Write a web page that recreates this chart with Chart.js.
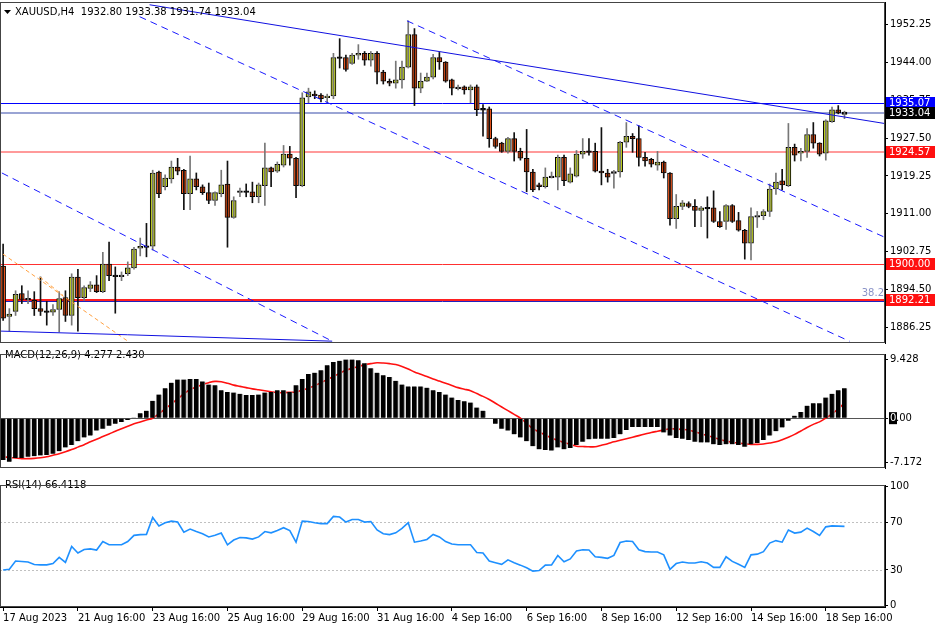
<!DOCTYPE html>
<html><head><meta charset="utf-8">
<script src="https://cdn.jsdelivr.net/npm/chart.js@4.4.0/dist/chart.umd.min.js"></script>
<style>
html,body{margin:0;padding:0;background:#fff;width:936px;height:624px;overflow:hidden;font-family:"DejaVu Sans",sans-serif}
.box{position:absolute;left:0;width:936px}
canvas{display:block}
</style></head><body>
<div class="box" style="top:0;height:345px;overflow:hidden"><div class="box" style="top:-6px;height:357px"><canvas id="c1"></canvas></div></div>
<div class="box" style="top:346px;height:130px"><canvas id="c2"></canvas></div>
<div class="box" style="top:477px;height:147px"><canvas id="c3"></canvas></div>
<script>
const opens=[1899.6,1888.6,1889.7,1893.6,1892.3,1892.1,1890.3,1889.7,1889.5,1890.1,
1892.7,1888.8,1897.2,1892.7,1894.7,1895.5,1894.0,1900.0,1897.5,1897.4,
1897.9,1899.2,1903.5,1903.9,1903.9,1920.1,1916.9,1918.6,1921.2,1920.5,
1915.4,1918.6,1916.9,1915.6,1913.9,1915.4,1917.5,1910.2,1915.8,1915.9,
1915.8,1914.7,1917.1,1921.0,1920.3,1921.6,1924.0,1923.1,1917.1,1936.5,
1937.1,1936.9,1936.3,1936.7,1945.1,1945.1,1943.8,1945.6,1946.0,1944.5,
1946.0,1941.9,1939.9,1939.5,1940.2,1943.0,1950.1,1938.4,1939.9,1940.8,
1945.1,1944.1,1940.2,1938.4,1938.7,1938.0,1938.7,1933.9,1933.9,1927.4,
1926.4,1924.6,1927.4,1924.6,1923.1,1920.1,1917.3,1916.9,1919.0,1919.0,
1923.3,1917.9,1919.2,1924.0,1924.6,1924.6,1920.3,1919.9,1919.9,1920.1,
1926.6,1927.9,1927.4,1923.3,1922.9,1921.6,1922.3,1919.9,1909.9,1912.6,
1913.2,1912.6,1911.7,1912.3,1912.3,1909.3,1909.3,1912.8,1909.5,1907.4,
1904.6,1910.4,1910.6,1911.5,1916.4,1918.2,1917.1,1925.5,1924.2,1924.6,
1928.3,1926.4,1924.2,1931.1,1933.7,1932.80];
const highs=[1904.4,1890.3,1894.2,1895.3,1894.2,1894.0,1897.2,1891.9,1891.2,1894.0,
1894.2,1897.9,1898.9,1895.3,1896.2,1897.5,1902.6,1904.8,1899.4,1898.3,
1900.5,1903.7,1905.7,1908.9,1920.5,1920.3,1919.5,1922.5,1923.1,1920.7,
1923.6,1919.9,1917.3,1917.7,1915.8,1920.5,1922.5,1914.7,1916.6,1917.5,
1917.9,1917.7,1926.4,1921.2,1922.3,1925.9,1925.7,1923.3,1937.4,1938.4,
1937.8,1937.2,1937.1,1946.0,1949.2,1945.6,1946.0,1947.9,1946.4,1946.4,
1946.4,1942.3,1940.4,1944.3,1944.3,1953.1,1951.4,1941.7,1941.7,1945.8,
1946.2,1944.2,1940.4,1939.1,1938.9,1939.1,1939.1,1934.8,1934.3,1927.7,
1926.6,1927.7,1928.7,1925.3,1929.4,1920.7,1917.7,1921.0,1920.1,1923.8,
1923.8,1921.0,1924.8,1927.4,1927.4,1926.4,1929.8,1920.7,1920.5,1926.8,
1930.9,1928.5,1930.2,1924.4,1923.1,1924.6,1922.5,1920.0,1915.2,1913.9,
1913.6,1914.1,1912.6,1914.7,1916.0,1911.5,1913.0,1913.0,1911.3,1907.6,
1912.3,1911.5,1911.9,1917.5,1919.9,1920.7,1930.7,1926.2,1925.3,1929.6,
1930.9,1926.5,1931.5,1934.3,1934.6,1933.38];
const lows=[1887.7,1885.4,1888.8,1891.4,1891.4,1888.8,1888.8,1886.7,1888.8,1885.2,
1887.5,1886.7,1885.4,1892.1,1894.0,1893.8,1893.8,1896.4,1889.3,1896.4,
1897.5,1898.9,1901.8,1901.6,1903.1,1914.5,1916.2,1917.7,1919.5,1911.9,
1911.9,1916.2,1915.2,1913.2,1912.8,1914.7,1903.7,1910.0,1914.7,1914.7,
1913.4,1913.4,1912.8,1916.9,1920.0,1921.2,1921.6,1914.5,1916.9,1935.2,
1936.1,1935.4,1935.2,1936.1,1942.8,1942.1,1943.6,1944.7,1943.4,1943.2,
1939.3,1939.3,1938.9,1938.4,1938.4,1942.8,1934.6,1937.4,1939.8,1940.4,
1942.5,1939.7,1936.9,1938.0,1937.1,1935.2,1932.4,1927.9,1925.5,1925.3,
1924.4,1924.2,1922.5,1922.7,1915.8,1915.8,1916.2,1916.6,1918.8,1916.2,
1917.1,1917.7,1919.0,1923.1,1923.8,1920.1,1917.3,1917.9,1916.6,1919.0,
1925.5,1924.4,1921.4,1921.4,1921.2,1920.5,1918.8,1908.5,1907.8,1911.9,
1912.3,1908.2,1908.2,1905.7,1909.1,1908.0,1907.6,1909.1,1907.2,1901.1,
1900.9,1908.0,1909.7,1910.4,1915.2,1916.2,1916.9,1922.5,1922.5,1923.3,
1925.3,1923.6,1922.7,1930.9,1932.8,1931.74];
const closes=[1888.2,1889.1,1893.4,1892.3,1892.4,1890.3,1889.7,1889.6,1890.1,1892.5,
1888.8,1897.2,1892.7,1894.9,1895.5,1894.0,1900.0,1897.5,1897.4,1897.5,
1899.2,1903.3,1903.9,1903.8,1919.9,1915.4,1918.8,1921.2,1920.3,1915.4,
1918.6,1916.9,1915.6,1913.9,1915.6,1917.3,1910.2,1913.9,1915.9,1915.8,
1914.7,1917.3,1921.0,1920.1,1921.8,1924.0,1923.1,1917.1,1936.3,1937.6,
1936.7,1936.1,1936.7,1945.1,1945.0,1942.5,1945.6,1946.0,1944.5,1946.0,
1941.9,1939.9,1939.5,1940.2,1943.0,1950.1,1938.4,1939.9,1940.8,1945.1,
1944.1,1939.9,1938.4,1938.5,1938.0,1938.7,1933.7,1933.7,1927.4,1925.7,
1924.6,1927.4,1924.6,1923.1,1920.1,1916.2,1916.9,1919.0,1919.1,1923.3,
1918.2,1919.7,1924.0,1924.6,1924.5,1920.3,1919.9,1919.0,1920.1,1926.6,
1927.9,1927.4,1923.3,1922.5,1921.8,1922.3,1919.9,1909.9,1912.6,1913.4,
1912.6,1911.7,1912.3,1912.2,1909.3,1908.2,1912.8,1909.3,1907.4,1904.6,
1910.4,1910.5,1911.5,1916.4,1917.9,1917.3,1925.5,1923.8,1924.6,1928.3,
1926.4,1924.0,1931.3,1933.7,1933.0,1933.04];
const macdHist=[-6.7,-7.0,-6.4,-6.4,-6.2,-6.1,-6.0,-5.9,-5.7,-5.3,-4.7,-4.3,-3.7,-3.1,-2.8,-2.0,-1.7,-1.2,-0.9,-0.6,-0.3,
0.1,0.8,1.2,2.8,3.8,4.8,5.7,6.2,6.2,6.3,6.3,5.9,5.4,5.3,4.5,4.2,4.1,3.9,3.7,3.7,3.8,4.1,4.2,4.5,4.5,4.2,5.3,6.3,7.1,7.3,7.7,8.5,9.0,9.2,9.4,9.4,
9.3,8.8,8.0,7.3,6.9,6.6,6.0,5.4,5.1,5.1,5.1,4.9,4.5,4.2,3.8,3.3,2.9,2.7,2.5,1.7,1.2,0.05,
-0.9,-1.7,-2.0,-2.6,-3.1,-3.7,-4.5,-5.0,-5.1,-5.2,-4.7,-5.0,-4.8,-4.3,-3.8,-3.4,-3.3,-3.3,-3.3,-3.2,-2.6,-1.9,-1.4,-1.4,-1.4,-1.4,-1.4,
-2.3,-2.8,-3.2,-3.3,-3.5,-3.8,-3.9,-3.9,-4.2,-4.3,-4.2,-4.2,-4.3,-4.6,-4.2,-4.0,-3.5,-2.8,-2.1,-1.5,-0.4,0.4,1.0,2.0,2.4,2.4,3.3,3.9,4.5,4.8];
const macdSignal=[-6.2,-6.3,-6.4,-6.5,-6.5,-6.45,-6.35,-6.2,-5.95,-5.7,
-5.4,-5.05,-4.65,-4.25,-3.8,-3.4,-2.95,-2.55,-2.1,-1.7,
-1.3,-0.9,-0.6,-0.3,0,0.7,1.5,2.3,3.1,3.9,
4.6,5.0,5.4,5.7,5.9,5.85,5.6,5.3,5.1,4.9,
4.7,4.55,4.4,4.25,4.1,4.1,4.15,4.2,4.5,4.85,
5.2,5.7,6.2,6.7,7.2,7.7,8.0,8.3,8.55,8.75,
8.9,8.85,8.75,8.6,8.3,7.9,7.4,7.05,6.7,6.3,
5.95,5.6,5.25,4.9,4.65,4.4,3.95,3.5,3.0,2.4,
1.8,1.2,0.6,0,-0.85,-1.7,-2.2,-2.7,-3.2,-3.55,
-3.9,-4.2,-4.5,-4.55,-4.6,-4.6,-4.35,-4.1,-3.8,-3.55,
-3.3,-3.05,-2.8,-2.55,-2.3,-2.1,-1.9,-1.7,-1.75,-1.8,
-1.9,-2.2,-2.5,-2.8,-3.1,-3.4,-3.7,-3.85,-4.0,-4.1,
-4.2,-4.2,-4.15,-4.0,-3.8,-3.45,-3.05,-2.6,-2.05,-1.5,
-1.0,-0.6,0.0,0.7,1.5,2.43];
const rsiValues=[30,30.5,37.4,37,36.6,34.5,34.2,34.2,35.3,40.5,
36.3,49.7,44.2,47.1,47.6,46.6,53.7,51,51,51,
53.7,58.9,59.5,59.7,73.9,66.8,69.5,70.8,70,61.6,
64.2,62.1,60.3,57.6,58.9,60.8,51,55,57.1,56.8,
55.8,57.6,62.1,61,62.9,65.3,62.9,53.2,70.8,70.5,
69.5,68.7,68.7,74.7,74.2,70,72.1,72.1,70,70.5,
63.4,60.3,59.5,61,64.7,69.5,53.2,54.2,55.5,59.7,
57.6,53.7,51.6,51,51,51,44.5,44.2,37.4,36,
34.7,38.4,36,34,31.8,29,29.5,34,34.2,42.1,
36.8,39.2,45.8,46.8,46.6,41,40.5,39.7,42.1,52.9,
54.2,53.7,46.8,45.3,45,45,42.6,30.5,35.3,36.6,
35.8,35.8,36.8,35.8,32.1,32.1,41,37.1,34.7,32.1,
42.6,43.2,45.3,52.4,54.5,53.2,63.4,60.8,61.6,65,
62.1,58.9,66,66.8,66.6,66.4118];
const priceTicks=[1952.25,1944.00,1935.75,1927.50,1919.25,1911.00,1902.75,1894.50,1886.25];
const macdTicks=[9.428,0,-7.172];
const rsiTicks=[100,70,30,0];
const dateTickIdx=[0,12,24,36,48,60,72,84,96,108,120,132];
const dateLabels=["17 Aug 2023","21 Aug 16:00","23 Aug 16:00","25 Aug 16:00","29 Aug 16:00","31 Aug 16:00","4 Sep 16:00","6 Sep 16:00","8 Sep 16:00","12 Sep 16:00","14 Sep 16:00","18 Sep 16:00"];
// trend-line endpoints [barIndex, price]
const trendTop=[[23.5,1956.6],[141.4,1930.7]];
const trendBottom=[[-0.5,1885.4],[20,1884.6],[52.8,1883.2]];
const dashA=[[21.9,1954.0],[135.8,1883.2]];
const dashB=[[-0.2,1919.9],[52.8,1883.2]];
const dashC=[[64.8,1953.1],[141.4,1905.9]];
const orange1=[[-0.02,1902.2],[20,1883.2]];
const orange2=[[5.9,1897.2],[9.6,1893.2]];
const levels=[
 {v:1935.07,color:'#0000ff',w:1,label:'1935.07',bg:'#0000ff'},
 {v:1933.04,color:'#9aa4d4',w:2,label:'1933.04',bg:'#000000'},
 {v:1924.57,color:'#ff9a9a',w:2,label:'1924.57',bg:'#ff1010'},
 {v:1900.00,color:'#ff3030',w:1,label:'1900.00',bg:'#ff1010'},
 {v:1892.21,color:'#ff2020',w:2,label:'1892.21',bg:'#ff1010'}
];
const XMIN=-0.5, XMAX=141.5;
const FONT={family:'"DejaVu Sans", sans-serif',size:10};
Chart.defaults.font=FONT;
Chart.defaults.color='#000';
Chart.defaults.animation=false;

function pts(a){return a.map(p=>({x:p[0],y:p[1]}));}
function xScale(show){return {type:'linear',min:XMIN,max:XMAX,offset:false,display:show,grid:{display:false}};}
const frame={id:'frame',afterDraw(c){const a=c.chartArea,ctx=c.ctx;ctx.save();ctx.strokeStyle='#444';ctx.lineWidth=1;
 ctx.strokeRect(Math.round(a.left)+0.5,Math.round(a.top)+0.5,Math.round(a.right-a.left)-1,Math.round(a.bottom-a.top)-1);ctx.restore();}};
function rightY(ticks,min,max,cb){return {position:'right',min,max,afterFit(s){s.width=51;},
 afterBuildTicks(s){s.ticks=ticks.map(v=>({value:v}));},
 grid:{drawOnChartArea:false,drawTicks:true,tickLength:3,color:'#000'},border:{color:'#000'},
 ticks:{padding:2,autoSkip:false,font:FONT,color:'#000',callback:cb}};}

const idx=opens.map((_,i)=>i);
const levelPlugin={id:'levels',beforeDatasetsDraw(c){const ctx=c.ctx,a=c.chartArea,y=c.scales.y;ctx.save();
 levels.forEach(l=>{const py=Math.round(y.getPixelForValue(l.v))+(l.w%2?0.5:0);ctx.strokeStyle=l.color;ctx.lineWidth=l.w;ctx.beginPath();ctx.moveTo(a.left,py);ctx.lineTo(a.right,py);ctx.stroke();});
 const py=Math.round(y.getPixelForValue(1892.21))+1.5;ctx.strokeStyle='#2020c0';ctx.lineWidth=1;ctx.beginPath();ctx.moveTo(a.left,py);ctx.lineTo(a.right,py);ctx.stroke();
 ctx.restore();},
 afterDraw(c){const ctx=c.ctx,a=c.chartArea,y=c.scales.y;ctx.save();ctx.font='10px "DejaVu Sans"';ctx.textBaseline='middle';
 levels.forEach(l=>{const py=Math.round(y.getPixelForValue(l.v));ctx.fillStyle=l.bg;ctx.fillRect(a.right+1,py-6,49,12);ctx.fillStyle='#fff';ctx.textAlign='left';ctx.fillText(l.label,a.right+4,py);});
 ctx.fillStyle='#8a93c8';ctx.textAlign='right';ctx.fillText('38.2',a.right-1,y.getPixelForValue(1892.21)-6);
 const t=a.top;
 ctx.fillStyle='#000';ctx.textAlign='left';ctx.fillText('XAUUSD,H4  1932.80 1933.38 1931.74 1933.04',15,t+10);
 ctx.beginPath();ctx.moveTo(4,t+8);ctx.lineTo(11,t+8);ctx.lineTo(7.5,t+12);ctx.closePath();ctx.fill();
 ctx.restore();}};
const bull=i=>closes[i]>=opens[i];
new Chart(document.getElementById('c1'),{type:'bar',
 data:{datasets:[
  {type:'line',data:pts(trendTop),borderColor:'#1010e0',borderWidth:1,pointRadius:0},
  {type:'line',data:pts(trendBottom),borderColor:'#1010e0',borderWidth:1,pointRadius:0},
  {type:'line',data:pts(dashA),borderColor:'#1a1aff',borderWidth:1,borderDash:[7,5],pointRadius:0},
  {type:'line',data:pts(dashB),borderColor:'#1a1aff',borderWidth:1,borderDash:[7,5],pointRadius:0},
  {type:'line',data:pts(dashC),borderColor:'#1a1aff',borderWidth:1,borderDash:[7,5],pointRadius:0},
  {type:'line',data:pts(orange1),borderColor:'#ffa040',borderWidth:1,borderDash:[4,3],pointRadius:0},
  {type:'line',data:pts(orange2),borderColor:'#ffa040',borderWidth:1,borderDash:[4,3],pointRadius:0},
  {data:idx.map(i=>({x:i,y:[lows[i],highs[i]]})),grouped:false,barThickness:1,backgroundColor:ctx=>bull(ctx.dataIndex)?'#777':'#111'},
  {data:idx.map(i=>{const lo=Math.min(opens[i],closes[i]),hi=Math.max(opens[i],closes[i]);return {x:i,y:hi-lo<0.25?[lo-0.12,hi+0.12]:[lo,hi]};}),
   grouped:false,barThickness:5,borderWidth:1,borderColor:'#000',borderSkipped:false,
   backgroundColor:ctx=>{const i=ctx.dataIndex;if(Math.abs(opens[i]-closes[i])<0.25)return '#000';return bull(i)?'#c2d41c':'#f2561a';}}
 ]},
 options:{responsive:true,maintainAspectRatio:false,layout:{padding:0},plugins:{legend:{display:false},tooltip:{enabled:false}},
  scales:{x:xScale(false),y:rightY(priceTicks,1882.8,1957.2,v=>v.toFixed(2))}},
 plugins:[levelPlugin,frame]});

const macdPlugin={id:'macdz',beforeDatasetsDraw(c){const ctx=c.ctx,a=c.chartArea,y=c.scales.y;const py=Math.round(y.getPixelForValue(0))+0.5;
 ctx.save();ctx.strokeStyle='#555';ctx.lineWidth=1;ctx.beginPath();ctx.moveTo(a.left,py);ctx.lineTo(a.right,py);ctx.stroke();ctx.restore();},
 afterDraw(c){const ctx=c.ctx,a=c.chartArea,y=c.scales.y;ctx.save();ctx.font='10px "DejaVu Sans"';ctx.textBaseline='middle';ctx.textAlign='left';
 const py=y.getPixelForValue(0);ctx.fillStyle='#000';ctx.fillRect(a.right+4,py-6,8,12);
 ctx.fillStyle='#fff';ctx.fillText('0',a.right+5,py);ctx.fillStyle='#000';ctx.fillText('.00',a.right+11,py);
 ctx.fillText('MACD(12,26,9) 4.277 2.430',5,9);ctx.restore();}};
new Chart(document.getElementById('c2'),{type:'bar',
 data:{datasets:[
  {data:idx.map(i=>({x:i,y:macdHist[i]})),grouped:false,barThickness:5,backgroundColor:'#000',borderColor:'#808080',borderWidth:{right:1},borderSkipped:false},
  {type:'line',data:idx.map(i=>({x:i,y:macdSignal[i]})),borderColor:'#ff1010',borderWidth:1.6,pointRadius:0,tension:0.3}
 ]},
 options:{responsive:true,maintainAspectRatio:false,layout:{padding:0},plugins:{legend:{display:false},tooltip:{enabled:false}},
  scales:{x:xScale(false),y:rightY(macdTicks,-8.0,10.3,v=>v===0?'':v.toFixed(3))}},
 plugins:[macdPlugin,frame]});

const rsiPlugin={id:'rsil',beforeDatasetsDraw(c){const ctx=c.ctx,a=c.chartArea,y=c.scales.y;ctx.save();ctx.strokeStyle='#c0c0c0';ctx.setLineDash([2,2]);
 [70,30].forEach(v=>{const py=Math.round(y.getPixelForValue(v))+0.5;ctx.beginPath();ctx.moveTo(a.left,py);ctx.lineTo(a.right,py);ctx.stroke();});ctx.restore();},
 afterDraw(c){const ctx=c.ctx;ctx.save();ctx.font='10px "DejaVu Sans"';ctx.textBaseline='middle';ctx.fillStyle='#000';ctx.fillText('RSI(14) 66.4118',5,8);ctx.restore();}};
const xr=xScale(true);
xr.afterBuildTicks=s=>{s.ticks=dateTickIdx.map(v=>({value:v}));};
xr.ticks={align:'start',maxRotation:0,autoSkip:false,padding:1,font:FONT,color:'#000',callback:(v)=>dateLabels[dateTickIdx.indexOf(v)]};
xr.grid={drawOnChartArea:false,drawTicks:true,tickLength:4,color:'#000'};
xr.border={color:'#000'};
xr.afterFit=s=>{s.height=17;};
new Chart(document.getElementById('c3'),{type:'line',
 data:{datasets:[{data:idx.map(i=>({x:i,y:rsiValues[i]})),borderColor:'#1e90ff',borderWidth:1.6,pointRadius:0}]},
 options:{responsive:true,maintainAspectRatio:false,layout:{padding:0},plugins:{legend:{display:false},tooltip:{enabled:false}},
  scales:{x:xr,y:rightY(rsiTicks,-1,101,v=>String(v))}},
 plugins:[rsiPlugin,frame]});
</script></body></html>
